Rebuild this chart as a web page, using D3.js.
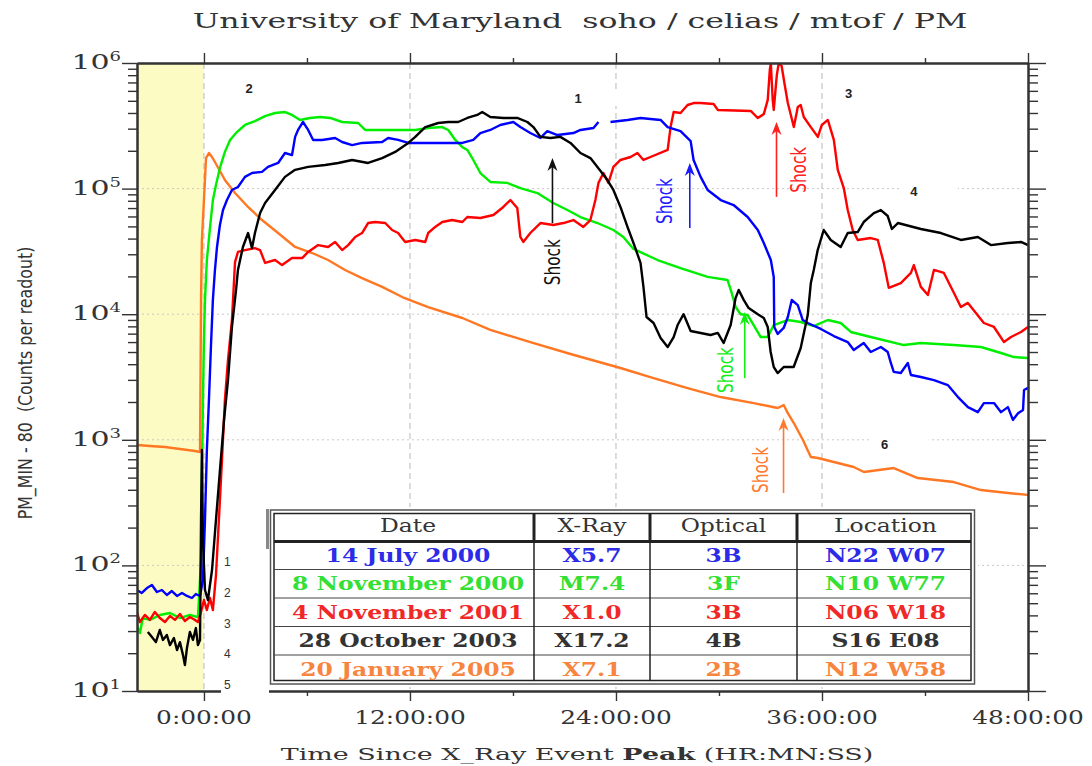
<!DOCTYPE html>
<html>
<head>
<meta charset="utf-8">
<title>SOHO CELIAS MTOF PM</title>
<script src="https://cdn.jsdelivr.net/npm/d3@7"></script>
<style>
  body { margin: 0; background: #fff; }
  svg { display: block; }
</style>
</head>
<body>
<svg id="drawing_region"></svg>
<script>
// [hours since X-ray peak, PM_MIN-80 counts per readout]
const july2000 = [[-3.91,63.7],[-3.62,60.3],[-3.32,66],[-3.03,69.8],[-2.74,61.4],[-2.45,63.7],[-2.16,58.1],[-1.87,62.5],[-1.57,57.1],[-1.28,60.3],[-0.99,57.1],[-0.7,55],[-0.47,59.2],[-0.23,57.1],[-0.06,76.5],[0.06,230],[0.17,829],[0.29,2070],[0.41,5680],[0.52,13000],[0.64,22500],[0.76,34300],[0.93,51300],[1.11,67500],[1.34,81100],[1.63,97500],[1.98,103000],[2.39,124000],[2.8,133000],[3.38,136000],[3.73,149000],[4.32,160000],[4.72,192000],[5.13,185000],[5.31,258000],[5.48,293000],[5.77,339000],[6.07,293000],[6.36,244000],[6.88,244000],[7.64,253000],[8.05,235000],[8.63,222000],[9.21,231000],[10.38,235000],[10.73,253000],[11.31,244000],[11.9,231000],[15.05,231000],[15.69,244000],[16.1,277000],[16.68,293000],[17.26,321000],[18.02,339000],[18.43,309000],[19.01,277000],[19.6,253000],[20,287000],[20.59,267000],[21.52,277000],[21.93,293000],[22.69,304000],[22.98,339000],[23.3,null],[23.68,339000],[24.67,352000],[25.43,365000],[26.6,352000],[27.01,309000],[27.76,287000],[28.35,239000],[28.52,169000],[28.93,124000],[29.34,97500],[30.1,81100],[30.85,74000],[31.67,59400],[32.26,46800],[32.61,36900],[33.02,27000],[33.19,19800],[33.22,7910],[33.42,6960],[33.77,7770],[34.01,9500],[34.24,12970],[34.59,11800],[34.88,8990],[35.17,8510],[35.93,7630],[36.69,6700],[37.5,6000],[37.85,5190],[38.43,5900],[38.84,5000],[39.43,5480],[39.83,5000],[40.01,4090],[40.18,3470],[40.59,3400],[41,4090],[41.18,3280],[41.76,3160],[42.52,2990],[43.33,2730],[43.92,2190],[44.5,1820],[45.08,1660],[45.43,1960],[46.02,1960],[46.43,1660],[46.83,1820],[47.12,1440],[47.42,1630],[47.71,1730],[47.77,2490],[48,2590]];

const nov2000 = [[-3.91,33.5],[-3.73,28.9],[-3.56,38.1],[-3.15,36.8],[-2.57,40.3],[-1.98,41.8],[-1.4,38.1],[-0.82,40.3],[-0.35,38.8],[-0.17,110],[-0.12,478],[-0.06,2070],[0,6230],[0.06,13000],[0.17,27000],[0.35,48600],[0.52,81100],[0.7,107000],[0.93,146000],[1.22,196000],[1.52,244000],[1.92,282000],[2.39,321000],[2.97,345000],[3.56,378000],[4.14,400000],[4.72,407000],[5.13,386000],[5.6,352000],[6.18,365000],[6.77,372000],[7.35,365000],[8.05,339000],[8.98,333000],[9.39,293000],[11.14,293000],[12.31,293000],[13.06,304000],[13.88,309000],[14.23,293000],[14.64,244000],[15.05,214000],[15.34,203000],[15.69,169000],[16.1,133000],[16.68,113000],[17.67,111000],[18.43,101000],[19.42,92200],[20.35,76800],[21.17,67500],[21.93,59400],[22.92,53200],[23.85,46800],[24.43,41200],[25.02,33100],[26.42,27000],[27.76,23300],[29.34,19800],[30.5,18700],[30.74,14800],[30.97,11400],[31.26,10000],[31.67,9850],[32.02,8200],[32.43,6580],[32.84,6580],[33.19,8200],[34.01,8990],[34.76,8670],[35.52,8050],[36.34,8990],[37.09,8510],[37.68,7220],[38.84,6580],[40.77,5680],[41.76,5900],[43.68,5680],[45.26,5480],[46.43,4910],[47.18,4560],[48,4480]];

const nov2001 = [[-3.91,42.6],[-3.73,35.4],[-3.44,40.3],[-3.15,36.8],[-2.86,42.6],[-2.57,38.1],[-2.27,35.4],[-1.98,39.6],[-1.69,36.8],[-1.4,41],[-1.11,36.1],[-0.82,38.8],[-0.52,36.8],[-0.35,35.4],[-0.17,42.6],[0,53],[0.17,44.1],[0.35,55],[0.52,44.1],[0.7,83.8],[0.87,230],[1.05,690],[1.22,2070],[1.4,4320],[1.63,8990],[1.81,26000],[1.98,31300],[2.39,32400],[2.97,33600],[3.27,32400],[3.56,25600],[4.14,27000],[4.55,24600],[5.13,28000],[5.72,28000],[6.07,31300],[6.65,35500],[7.23,34300],[7.64,37600],[8.05,32400],[8.4,35500],[8.81,41200],[9.21,44300],[9.56,53200],[9.97,54200],[10.56,53200],[10.96,46800],[11.31,44300],[11.72,37600],[12.31,39000],[12.89,37600],[13.06,44300],[13.47,49500],[13.88,54200],[14.46,56200],[15.05,54200],[15.34,59400],[16.1,58300],[16.86,61600],[17.44,71400],[17.85,81100],[18.25,70100],[18.43,41200],[18.6,37600],[19.01,44300],[19.6,53200],[20.35,51300],[20.94,53200],[21.52,56200],[22.1,49500],[22.51,56200],[22.8,81100],[22.98,111000],[23.27,133000],[23.56,111000],[23.85,149000],[24.26,169000],[24.85,178500],[25.25,192000],[25.6,169000],[26.01,178500],[27.01,203000],[27.18,309000],[27.36,407000],[27.76,400000],[28.17,463000],[28.52,480000],[28.93,480000],[29.69,472000],[29.93,423000],[31.85,415000],[32.26,365000],[32.61,392000],[32.84,508000],[32.96,880000],[33.02,1000000],[33.13,508000],[33.19,423000],[33.37,803000],[33.48,1000000],[33.65,947000],[33.83,668000],[34.01,480000],[34.36,309000],[34.59,446000],[34.76,463000],[34.94,372000],[35.35,309000],[35.76,258000],[35.99,321000],[36.34,352000],[36.69,244000],[36.92,141000],[37.27,101000],[37.5,67500],[37.79,46800],[38.08,39000],[38.84,40400],[39.25,39000],[39.6,25600],[39.89,16200],[40.59,17700],[41.18,21300],[41.35,24600],[41.76,16500],[42.17,14200],[42.52,22500],[43.1,21300],[43.68,14800],[44.09,11400],[44.5,12300],[45.43,8510],[46.02,7910],[46.6,6000],[47.01,6580],[47.59,7220],[48,7910]];

const oct2003 = [[-3.27,29.5],[-3.03,26.9],[-2.8,24.5],[-2.57,30.6],[-2.39,25.5],[-2.16,27.9],[-1.98,23.2],[-1.75,26.4],[-1.57,21.2],[-1.4,24.5],[-1.22,19.3],[-1.11,16.1],[-0.99,22],[-0.82,29.5],[-0.64,25.5],[-0.47,31.7],[-0.35,23.2],[-0.23,25.5],[-0.17,230],[-0.12,829],[-0.06,159],[0.06,63.7],[0.23,53],[0.47,91.9],[0.7,230],[0.93,569],[1.17,1440],[1.4,2990],[1.63,7910],[1.87,15600],[1.98,22500],[2.27,34300],[2.57,44300],[2.8,33600],[2.97,44300],[3.27,63900],[3.56,76800],[4.14,97500],[4.72,124000],[5.31,141000],[6.07,149000],[7.06,154000],[7.82,160000],[8.63,169000],[9.56,160000],[10.38,175000],[11.14,196000],[11.9,231000],[12.31,258000],[12.89,309000],[13.65,333000],[14.23,339000],[14.81,339000],[15.34,365000],[15.92,386000],[16.21,407000],[16.68,372000],[17.44,365000],[18.25,365000],[18.84,339000],[19.19,309000],[19.6,258000],[20.18,253000],[20.76,258000],[21.35,231000],[21.93,192000],[22.51,175000],[23.1,138000],[23.5,117000],[23.85,97500],[24.26,71400],[24.67,49500],[25.02,36900],[25.43,25600],[25.6,16500],[25.78,9500],[26.19,8510],[26.6,6460],[27.01,5480],[27.36,6580],[27.59,8200],[27.94,10000],[28.35,7350],[28.93,7090],[29.51,6830],[29.93,7090],[30.27,5900],[30.68,8200],[30.97,13500],[31.15,15600],[31.44,13000],[31.73,11200],[32.26,10000],[32.61,9330],[32.84,7910],[33.01,5000],[33.19,3800],[33.42,3400],[33.77,3800],[34.35,3800],[34.76,5380],[35.17,9850],[35.35,17700],[35.52,22500],[35.75,32400],[36.1,46800],[36.51,39000],[37.09,34300],[37.5,44300],[38.08,45100],[38.43,54200],[39.02,63900],[39.43,67500],[39.83,60500],[40.07,47700],[40.42,53200],[41.76,47700],[42.93,44300],[44.09,39000],[45.08,41200],[45.84,35500],[46.83,36900],[47.59,37600],[48,35500]];

const jan2005 = [[-3.91,910],[-3.15,892],[-2.27,876],[-1.4,845],[-0.52,814],[-0.23,800],[-0.17,13000],[-0.12,39000],[0,81100],[0.12,175000],[0.29,192000],[0.47,178500],[0.64,162800],[1.22,117000],[1.81,92200],[2.57,71400],[3.38,56200],[4.32,44300],[5.31,34300],[6.3,30700],[7.23,27000],[8.22,22500],[9.21,19400],[10.38,16500],[11.55,13700],[13.06,11400],[15.05,9330],[16.68,7490],[19.01,6000],[21.35,4820],[24.26,3730],[26.19,3100],[28.17,2580],[30.09,2190],[32.02,1960],[33.42,1790],[33.77,1890],[34.01,1630],[34.36,1360],[34.89,996],[35.35,729],[35.76,716],[36.92,654],[37.85,607],[38.44,554],[40.18,596],[41.58,496],[43.68,461],[45.26,398],[46.83,377],[48,364]];

// event table
const tableHeader = ['Date', 'X-Ray', 'Optical', 'Location'];
const eventDates = ['14 July 2000', '8 November 2000', '4 November 2001', '28 October 2003', '20 January 2005'];
const xrayClass = ['X5.7', 'M7.4', 'X1.0', 'X17.2', 'X7.1'];
const opticalClass = ['3B', '3F', '3B', '4B', '2B'];
const locations = ['N22 W07', 'N10 W77', 'N06 W18', 'S16 E08', 'N12 W58'];

// ticks
const xMajorHours = [0, 12, 24, 36, 48];
const xMinorHours = [6, 18, 30, 42];
const xTickLabels = ['0:00:00', '12:00:00', '24:00:00', '36:00:00', '48:00:00'];
const yDecadePowers = [1, 2, 3, 4, 5, 6];

// shock arrivals: hour, arrow foot and tip (counts); order black, blue, red, green, orange
const shockHours = [20.3, 28.3, 33.35, 31.5, 33.76];
const shockFoot = [53000, 48500, 86000, 3100, 377];
const shockTip = [175000, 160000, 339000, 10400, 1490];

// numbered markers on the plot
const markerText = ['2', '1', '3', '4', '6'];
const markerHours = [2.63, 21.8, 37.55, 41.35, 39.65];
const markerCounts = [631000, 526000, 577000, 95700, 927];
const sideNumbers = ['1', '2', '3', '4', '5'];

const W = 1092, H = 766;
const plot = {left: 137, right: 1028, top: 63, bottom: 691};
const serif = '"DejaVu Serif", "Liberation Serif", serif';
const narrow = '"Liberation Sans Narrow", "DejaVu Sans Condensed", "Liberation Sans", sans-serif';

const svg = d3.select('#drawing_region').attr('width', W).attr('height', H);

const x = d3.scaleLinear().domain([-3.9, 48]).range([plot.left, plot.right]);
const y = d3.scaleLog().domain([10, 1e6]).range([plot.bottom, plot.top]);

const decades = yDecadePowers.map(p => Math.pow(10, p));
const minorCounts = [];
decades.slice(0, -1).forEach(d => d3.range(2, 10).forEach(k => minorCounts.push(d * k)));

// stretch text horizontally so it covers a given width
function fitText(sel, target, x0, y0, rot, sy) {
    const len = sel.node().getComputedTextLength();
    sel.attr('x', 0).attr('y', 0)
        .attr('transform', `translate(${x0},${y0})` + (rot ? ` rotate(${rot})` : '') + ` scale(${target / len},${sy || 1})`);
}
function stretchText(sel, sx, x0, y0) {
    sel.attr('x', 0).attr('y', 0).attr('transform', `translate(${x0},${y0}) scale(${sx},1)`);
}

// pre-event band
svg.append('rect')
    .attr('x', x(-3.9)).attr('y', plot.top)
    .attr('width', x(0) - x(-3.9)).attr('height', plot.bottom - plot.top)
    .attr('fill', '#fdfbc4');

// grid
svg.append('g').selectAll('line')
    .data([0, 12, 24, 36]).enter().append('line')
    .attr('x1', d => x(d)).attr('x2', d => x(d))
    .attr('y1', plot.top).attr('y2', plot.bottom)
    .attr('stroke', '#c4c4c4').attr('stroke-width', 1.2).attr('stroke-dasharray', '6,4');
svg.append('g').selectAll('line')
    .data(decades.slice(1, -1)).enter().append('line')
    .attr('x1', plot.left).attr('x2', plot.right)
    .attr('y1', d => y(d)).attr('y2', d => y(d))
    .attr('stroke', '#cfc6c6').attr('stroke-width', 1).attr('stroke-dasharray', '2,3');

// data lines
svg.append('clipPath').attr('id', 'plotclip').append('rect')
    .attr('x', plot.left).attr('y', plot.top)
    .attr('width', plot.right - plot.left).attr('height', plot.bottom - plot.top);

const series = [
    {data: jan2005, color: '#ff7722'},
    {data: nov2000, color: '#00ee00'},
    {data: nov2001, color: '#ff0000'},
    {data: july2000, color: '#0000ff'},
    {data: oct2003, color: '#000000'}
];
const line = d3.line()
    .defined(d => d[1] != null)
    .x(d => x(d[0]))
    .y(d => y(d[1]));

svg.append('g').attr('clip-path', 'url(#plotclip)')
    .selectAll('path').data(series).enter().append('path')
    .attr('d', d => line(d.data))
    .attr('fill', 'none')
    .attr('stroke', d => d.color)
    .attr('stroke-width', 2.4)
    .attr('stroke-linejoin', 'round');

// axes
const axisColor = '#333';
function styleAxis(g, w) {
    g.select('.domain').attr('stroke', axisColor).attr('stroke-width', w);
    g.selectAll('.tick line').attr('stroke', axisColor).attr('stroke-width', 1.4);
}
[[d3.axisLeft, plot.left, 9, 15], [d3.axisRight, plot.right, 10, 18]].forEach(([ax, pos, sMin, sMaj]) => {
    svg.append('g').attr('transform', `translate(${pos},0)`)
        .call(ax(y).tickValues(minorCounts).tickSize(sMin).tickSizeOuter(0).tickFormat(''))
        .call(g => styleAxis(g, 2));
    svg.append('g').attr('transform', `translate(${pos},0)`)
        .call(ax(y).tickValues(decades).tickSize(sMaj).tickSizeOuter(0).tickFormat(''))
        .call(g => styleAxis(g, 2));
});
[[d3.axisTop, plot.top], [d3.axisBottom, plot.bottom]].forEach(([ax, pos]) => {
    svg.append('g').attr('transform', `translate(0,${pos})`)
        .call(ax(x).tickValues(xMinorHours).tickSize(5).tickSizeOuter(0).tickFormat(''))
        .call(g => styleAxis(g, 2));
    svg.append('g').attr('transform', `translate(0,${pos})`)
        .call(ax(x).tickValues(xMajorHours).tickSize(10).tickSizeOuter(0).tickFormat(''))
        .call(g => styleAxis(g, 2));
});

// y tick labels 10^n
decades.forEach((d, i) => {
    const t = svg.append('text')
        .attr('text-anchor', 'end')
        .style('font-family', serif).style('fill', '#333');
    t.append('tspan').style('font-size', '20px').text('10');
    t.append('tspan').style('font-size', '12px').attr('dy', -8).text(yDecadePowers[i]);
    stretchText(t, 1.5, plot.left - 16, y(d) + 6);
});

// x tick labels
xMajorHours.forEach((h, i) => {
    const t = svg.append('text')
        .attr('text-anchor', 'middle')
        .style('font-family', serif).style('font-size', '18px').style('fill', '#333')
        .text(xTickLabels[i]);
    stretchText(t, 1.38, x(h), 724);
});

// shock arrows
const shockColors = ['#111111', '#1a1aff', '#ff2020', '#11ee11', '#ff7a30'];
const shockLabelOffset = [[0, 39], [-25, -27], [22, -27], [-19, -8], [-23, -23]];
shockHours.forEach((h, i) => {
    const ax = x(h), yf = y(shockFoot[i]), yt = y(shockTip[i]);
    svg.append('line')
        .attr('x1', ax).attr('x2', ax).attr('y1', yf).attr('y2', yt + 6)
        .attr('stroke', shockColors[i]).attr('stroke-width', 1.6);
    svg.append('path')
        .attr('d', `M${ax},${yt} L${ax - 5},${yt + 13} L${ax},${yt + 9} L${ax + 5},${yt + 13} Z`)
        .attr('fill', shockColors[i]);
    const t = svg.append('text')
        .attr('text-anchor', 'middle')
        .attr('dominant-baseline', 'central')
        .style('font-family', narrow).style('font-size', '16px')
        .style('fill', shockColors[i])
        .text('Shock');
    fitText(t, 46, ax + shockLabelOffset[i][0], yf + shockLabelOffset[i][1], -90, 1.3);
});

// numbered markers
markerText.forEach((m, i) => {
    const mx = x(markerHours[i]), my = y(markerCounts[i]);
    svg.append('rect')
        .attr('x', mx - 14).attr('y', my - 8).attr('width', 58).attr('height', 16)
        .attr('fill', '#fff');
    svg.append('text')
        .attr('x', mx).attr('y', my + 5)
        .attr('text-anchor', 'middle')
        .style('font-family', '"Liberation Sans", Arial, sans-serif')
        .style('font-size', '13px').style('font-weight', 'bold').style('fill', '#222')
        .text(m);
});

// side numbers box
svg.append('rect').attr('x', 221).attr('y', 548).attr('width', 48).attr('height', 152).attr('fill', '#fff');
sideNumbers.forEach((s, i) => {
    svg.append('text')
        .attr('x', 224).attr('y', 566 + i * 30.8)
        .style('font-family', '"Liberation Sans", Arial, sans-serif')
        .style('font-size', '12px').style('fill', '#333')
        .text(s);
});

// table
const tableColors = ['#2b2be8', '#33e033', '#f02828', '#333333', '#f7843f'];
const colX = [271, 534, 650, 797, 974];
const rowY = [511, 541, 569.5, 598, 626.5, 655, 683];
const colCenter = [408, 592, 723.5, 885.5];
const tbl = svg.append('g');
tbl.append('rect').attr('x', 266).attr('y', 507).attr('width', 712).attr('height', 180).attr('fill', '#fff');
tbl.append('line').attr('x1', 267.5).attr('x2', 267.5).attr('y1', 509).attr('y2', 549)
    .attr('stroke', '#888').attr('stroke-width', 3);
tbl.append('rect').attr('x', 270.5).attr('y', 510).attr('width', 704).attr('height', 174)
    .attr('fill', 'none').attr('stroke', '#555').attr('stroke-width', 1.5);
tbl.append('rect').attr('x', 274).attr('y', 513.5).attr('width', 697).attr('height', 167)
    .attr('fill', 'none').attr('stroke', '#222').attr('stroke-width', 1.5);
tbl.append('line').attr('x1', 274).attr('x2', 971).attr('y1', 541.5).attr('y2', 541.5)
    .attr('stroke', '#222').attr('stroke-width', 3);
rowY.slice(2, 6).forEach(r => {
    tbl.append('line').attr('x1', 274).attr('x2', 971).attr('y1', r).attr('y2', r)
        .attr('stroke', '#444').attr('stroke-width', 1.2);
});
colX.slice(1, 4).forEach(c => {
    tbl.append('line').attr('x1', c).attr('x2', c).attr('y1', 513.5).attr('y2', 680.5)
        .attr('stroke', '#222').attr('stroke-width', 1.5);
    tbl.append('line').attr('x1', c).attr('x2', c).attr('y1', 513.5).attr('y2', 541.5)
        .attr('stroke', '#222').attr('stroke-width', 3);
});

// common stretch for table text
const probe = svg.append('text').style('font-family', serif).style('font-size', '18px')
    .style('font-weight', 'bold').text(eventDates[1]);
const tableSx = 232 / probe.node().getComputedTextLength();
probe.remove();

tableHeader.forEach((h, j) => {
    const t = tbl.append('text').attr('text-anchor', 'middle')
        .style('font-family', serif).style('font-size', '18px').style('fill', '#333')
        .text(h);
    stretchText(t, tableSx, colCenter[j], 532);
});
const tableCols = [eventDates, xrayClass, opticalClass, locations];
tableCols.forEach((col, j) => {
    col.forEach((v, i) => {
        const t = tbl.append('text').attr('text-anchor', 'middle')
            .style('font-family', serif).style('font-size', '18px').style('font-weight', 'bold')
            .style('fill', tableColors[i])
            .text(v);
        stretchText(t, tableSx, colCenter[j], (rowY[i + 1] + rowY[i + 2]) / 2 + 6.5);
    });
});

// titles
const title = svg.append('text').attr('text-anchor', 'middle')
    .style('font-family', serif).style('font-size', '21px').style('fill', '#333')
    .text('University of Maryland\u00a0\u00a0soho / celias / mtof / PM');
fitText(title, 775, 580, 28);

const xtitle = svg.append('text').attr('text-anchor', 'middle')
    .style('font-family', serif).style('font-size', '16px').style('fill', '#333');
xtitle.append('tspan').text('Time Since X_Ray Event ');
xtitle.append('tspan').style('font-weight', 'bold').text('Peak');
xtitle.append('tspan').text(' (HR:MN:SS)');
fitText(xtitle, 593, 577, 760);

const ytitle = svg.append('text').attr('text-anchor', 'middle')
    .attr('dominant-baseline', 'central')
    .style('font-family', narrow).style('font-size', '15px').style('fill', '#333')
    .text('PM_MIN - 80\u00a0\u00a0(Counts per readout)');
fitText(ytitle, 273, 25, 383, -90, 1.3);
</script>
</body>
</html>
